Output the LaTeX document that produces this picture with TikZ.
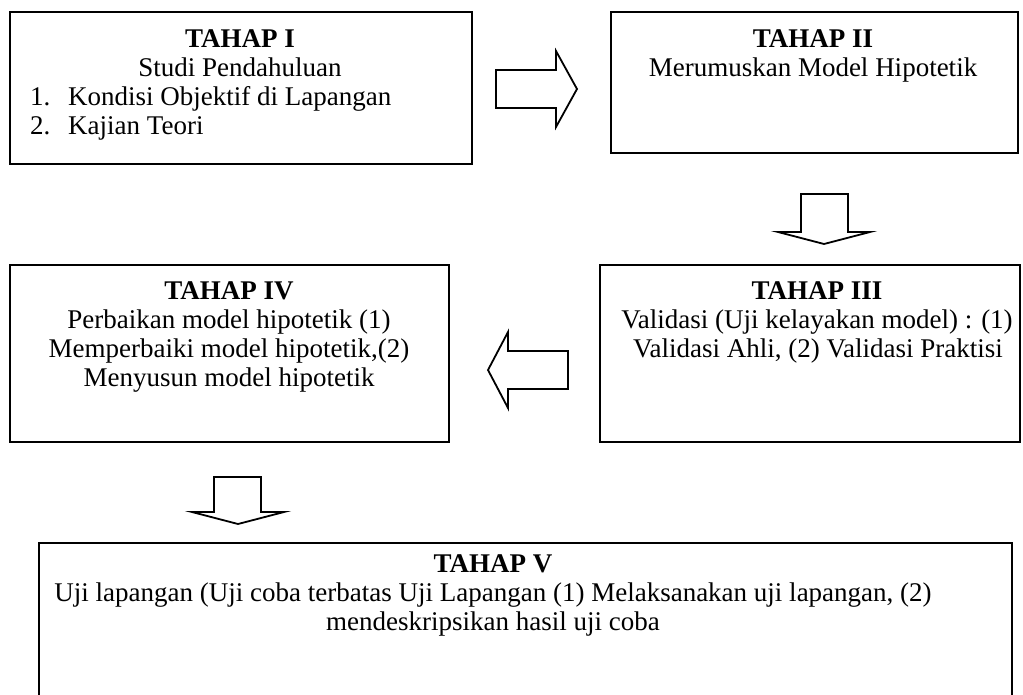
\documentclass[tikz,border=0pt]{standalone}
\usepackage{fontspec}
\setmainfont{Liberation Serif}
\begin{document}
\begin{tikzpicture}[x=1pt,y=-1pt,
  box/.style={draw, line width=1.8pt, outer sep=0pt, inner sep=0pt, anchor=north west},
  blk/.style={draw, line width=1.8pt, line join=miter},
  ttl/.style={font=\fontsize{27}{30}\selectfont\bfseries, anchor=base, inner sep=0pt},
  txt/.style={font=\fontsize{27}{30}\selectfont, anchor=base, inner sep=0pt},
  txtl/.style={font=\fontsize{27}{30}\selectfont, anchor=base west, inner sep=0pt}]
\useasboundingbox (0,0) rectangle (1023,694);
% boxes
\node[box, minimum width=462pt, minimum height=152pt] (b1) at (10,12) {};
\node[box, minimum width=407pt, minimum height=141pt] (b2) at (611,12) {};
\node[box, minimum width=420pt, minimum height=177pt] (b3) at (600,265) {};
\node[box, minimum width=439pt, minimum height=177pt] (b4) at (10,265) {};
\node[box, minimum width=973pt, minimum height=160pt] (b5) at (39,543) {};
% block arrows
\draw[blk] (496,70) -- (556,70) -- (556,51) -- (577,89) -- (556,127) -- (556,108) -- (496,108) -- cycle;
\draw[blk] (801,194) -- (848,194) -- (848,232) -- (870,232) -- (824,244) -- (778,232) -- (801,232) -- cycle;
\draw[blk] (568,351) -- (508,351) -- (508,332) -- (488,370) -- (508,408) -- (508,389) -- (568,389) -- cycle;
\draw[blk] (214,477) -- (261,477) -- (261,512) -- (284,512) -- (238,524) -- (192,512) -- (214,512) -- cycle;
% texts box I
\node[ttl] (t1) at (240,47) {TAHAP I};
\node[txt] (t1a) at (240,76) {Studi Pendahuluan};
\node[txtl] (t1b) at (30,105) {1.};
\node[txtl] (t1c) at (68,105) {Kondisi Objektif di Lapangan};
\node[txtl] (t1d) at (30,134) {2.};
\node[txtl] (t1e) at (68,134) {Kajian Teori};
% box II
\node[ttl] (t2) at (813,47) {TAHAP II};
\node[txt] (t2a) at (813,76) {Merumuskan Model Hipotetik};
% box III
\node[ttl] (t3) at (817,299) {TAHAP III};
\node[txt] (t3a) at (817,328) {Validasi (Uji kelayakan model) : (1)};
\node[txt] (t3b) at (818,357) {Validasi Ahli, (2) Validasi Praktisi};
% box IV
\node[ttl] (t4) at (229,299) {TAHAP IV};
\node[txt] (t4a) at (229,328) {Perbaikan model hipotetik (1)};
\node[txt] (t4b) at (229,357) {Memperbaiki model hipotetik,(2)};
\node[txt] (t4c) at (229,386) {Menyusun model hipotetik};
% box V
\node[ttl] (t5) at (493,572) {TAHAP V};
\node[txt] (t5a) at (493,601) {Uji lapangan (Uji coba terbatas Uji Lapangan (1) Melaksanakan uji lapangan, (2)};
\node[txt] (t5b) at (493,630) {mendeskripsikan hasil uji coba};
\end{tikzpicture}
\end{document}
